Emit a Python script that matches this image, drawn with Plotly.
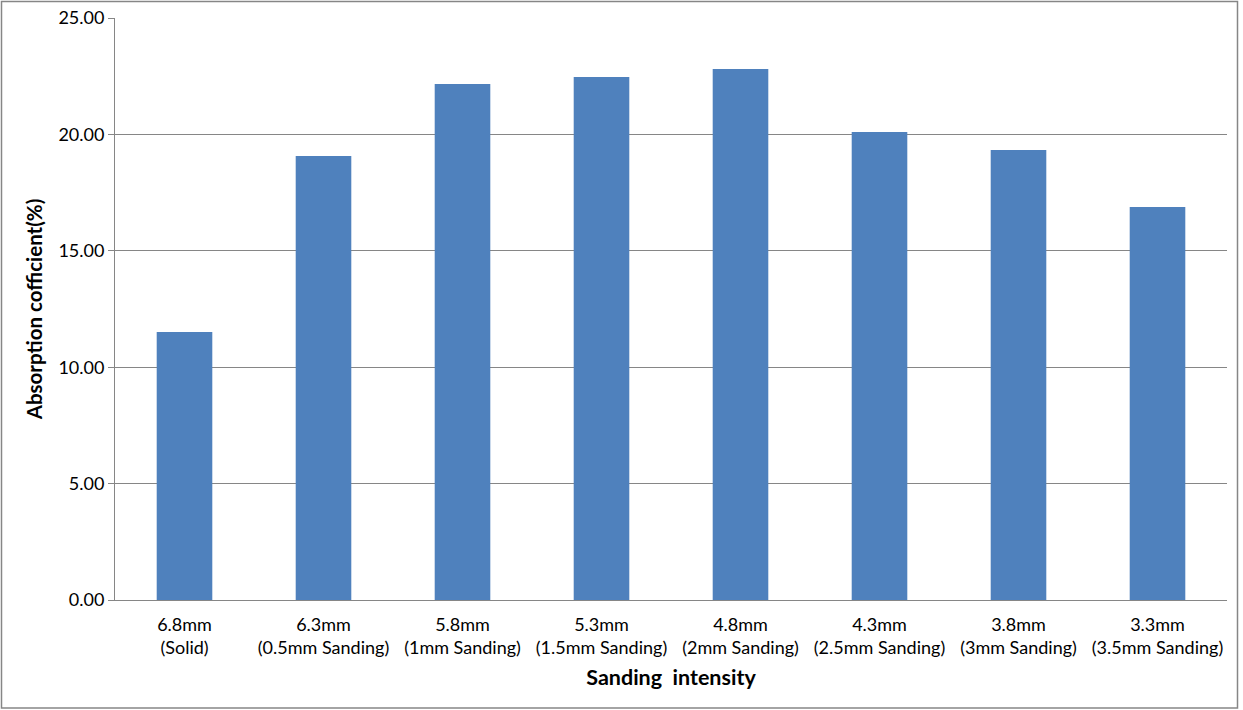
import plotly.graph_objects as go

categories = ["6.8mm<br>(Solid)", "6.3mm<br>(0.5mm Sanding)", "5.8mm<br>(1mm Sanding)",
              "5.3mm<br>(1.5mm Sanding)", "4.8mm<br>(2mm Sanding)", "4.3mm<br>(2.5mm Sanding)",
              "3.8mm<br>(3mm Sanding)", "3.3mm<br>(3.5mm Sanding)"]
values = [11.51, 19.07, 22.16, 22.47, 22.81, 20.10, 19.33, 16.88]
y_ticks = [0, 5, 10, 15, 20, 25]
y_tick_labels = ["0.00", "5.00", "10.00", "15.00", "20.00", "25.00"]

W, H = 1243, 710
L, R, T, B = 115, 16, 18, 110
pw, ph = W - L - R, H - T - B

fig = go.Figure(go.Bar(x=categories, y=values, marker=dict(color="#4F81BD", line=dict(width=0))))

font = "Lato, 'Open Sans', sans-serif"
fig.update_layout(
    width=W, height=H,
    margin=dict(l=L, r=R, t=T, b=B, autoexpand=False),
    plot_bgcolor="white", paper_bgcolor="white",
    bargap=0.6,
    showlegend=False,
    font=dict(family=font, size=18, color="black"),
    xaxis=dict(
        automargin=False,
        showline=True, linecolor="#868686", linewidth=1,
        ticks="", tickfont=dict(size=18), ticklabelstandoff=8,
        title=dict(text="<b>Sanding  intensity</b>", font=dict(size=21.5), standoff=12),
    ),
    yaxis=dict(
        automargin=False,
        range=[0, 25], tickvals=y_ticks, ticktext=y_tick_labels,
        showgrid=True, gridcolor="#868686", gridwidth=1,
        showline=True, linecolor="#868686", linewidth=1,
        ticks="outside", ticklen=6, tickcolor="#868686",
        tickfont=dict(size=18), zeroline=False,
        title=dict(text="<b>Absorption cofficient(%)</b>", font=dict(size=20.5), standoff=10),
    ),
    shapes=[dict(
        type="rect", xref="paper", yref="paper",
        x0=(1.5 - L) / pw, x1=(1237.5 - L) / pw,
        y0=(H - B - 708) / ph, y1=(H - B - 1.5) / ph,
        line=dict(color="#868686", width=1.5), fillcolor="rgba(0,0,0,0)", layer="below",
    )],
)

fig.write_html("out.html", config={"displayModeBar": False},
               post_script="document.body.style.margin='0';document.body.style.overflow='hidden';")
